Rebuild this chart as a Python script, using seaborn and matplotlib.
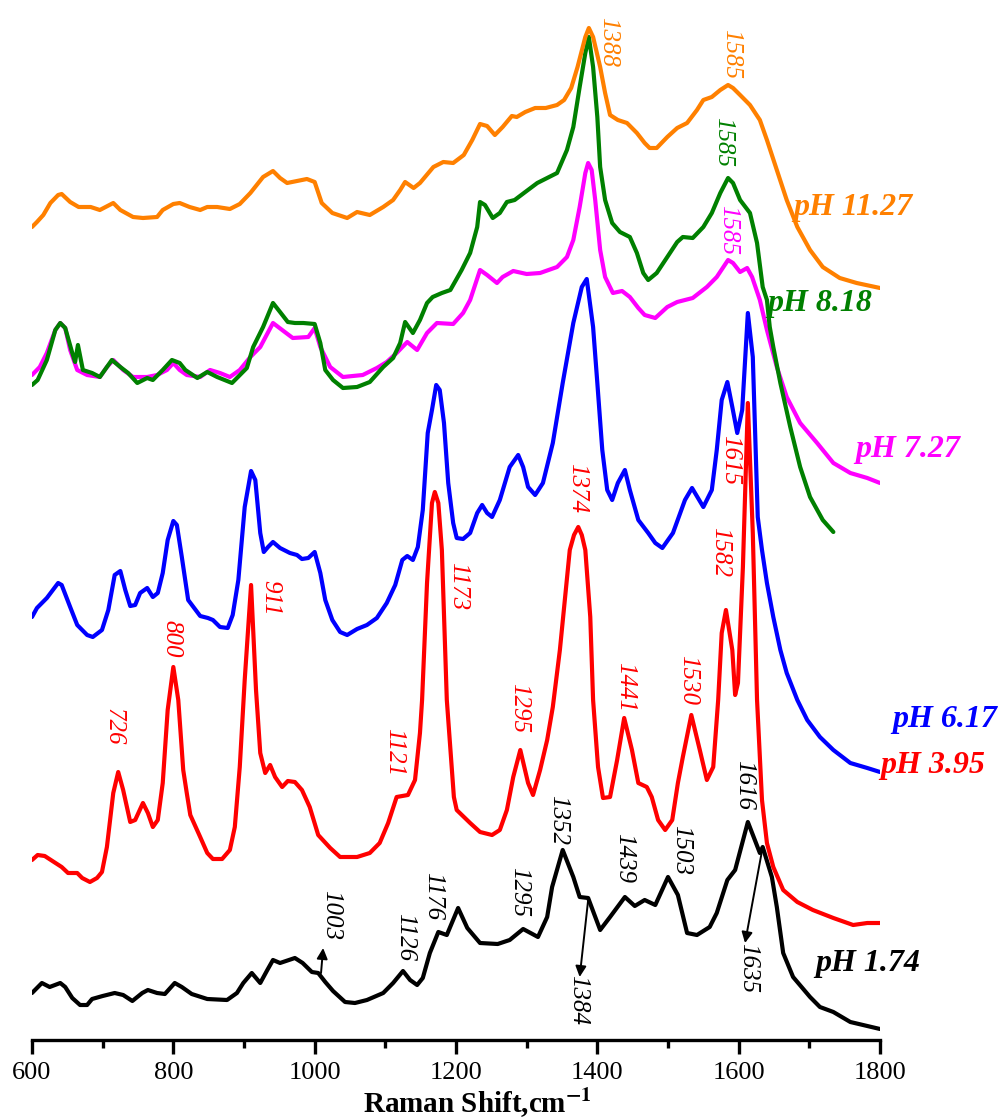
import matplotlib
matplotlib.use("Agg")
import matplotlib.pyplot as plt
import seaborn as sns
import pandas as pd

# ---------------- spectra (Raman shift in cm-1, intensity in a.u., stacked) ----------------
wn_1174 = [600, 614, 625, 640, 647, 657, 668, 678, 685, 700, 717, 729, 742, 756, 764, 777, 788, 802,
           812, 826, 848, 876, 890, 899, 911, 923, 933, 941, 951, 972, 983, 996, 1005, 1015, 1026,
           1043, 1057, 1074, 1097, 1111, 1125, 1135, 1145, 1153, 1163, 1175, 1187, 1203, 1216, 1234,
           1259, 1276, 1295, 1316, 1329, 1336, 1351, 1366, 1375, 1387, 1404, 1418, 1439, 1453, 1467,
           1482, 1500, 1514, 1527, 1541, 1559, 1569, 1584, 1595, 1613, 1630, 1634, 1647, 1654, 1663,
           1677, 1701, 1715, 1734, 1758, 1800]
int_1174 = [47, 57, 53, 57, 53, 42, 35, 35, 41, 44, 47, 45, 39, 47, 50, 47, 46, 57,
            53, 46, 41, 40, 47, 57, 67, 57, 70, 80, 77, 82, 77, 68, 67, 58, 49,
            38, 37, 40, 47, 57, 69, 60, 55, 62, 87, 108, 105, 132, 112, 97,
            96, 100, 111, 103, 123, 153, 190, 163, 143, 142, 110, 123, 143, 134, 140,
            135, 163, 145, 107, 105, 113, 127, 160, 170, 218, 187, 193, 163, 133, 87,
            63, 43, 33, 28, 18, 11]

wn_395 = [600, 608, 618, 642, 651, 664, 671, 682, 692, 699, 706, 715, 722, 729, 739, 746, 757, 764,
          771, 778, 785, 792, 800, 807, 814, 819, 824, 838, 848, 856, 869, 880, 887, 894, 901, 910,
          917, 923, 930, 937, 944, 954, 962, 972, 982, 993, 1005, 1022, 1036, 1060, 1078, 1092, 1104,
          1116, 1132, 1142, 1149, 1152, 1159, 1166, 1170, 1175, 1180, 1187, 1197, 1201, 1220, 1234,
          1251, 1262, 1272, 1281, 1291, 1302, 1309, 1319, 1329, 1337, 1347, 1361, 1367, 1373, 1378,
          1383, 1390, 1394, 1401, 1408, 1418, 1428, 1438, 1449, 1458, 1470, 1477, 1486, 1496, 1506,
          1514, 1521, 1533, 1545, 1555, 1564, 1571, 1576, 1582, 1591, 1595, 1599, 1606, 1613, 1620,
          1626, 1633, 1640, 1649, 1663, 1683, 1705, 1734, 1762, 1782, 1800]
int_395 = [180, 185, 184, 173, 167, 167, 162, 158, 162, 168, 193, 247, 268, 250, 218, 220, 237, 227,
           213, 220, 257, 330, 373, 340, 270, 247, 225, 203, 187, 181, 181, 190, 213, 273, 360, 455,
           350, 287, 267, 275, 263, 253, 259, 258, 250, 233, 205, 192, 183, 183, 187, 197, 217,
           243, 245, 260, 307, 340, 457, 537, 548, 537, 490, 340, 243, 230, 217, 208,
           205, 210, 230, 263, 290, 257, 245, 270, 300, 333, 390, 490, 505, 513, 505,
           490, 423, 340, 273, 242, 243, 280, 322, 290, 257, 253, 243, 220, 210, 220,
           257, 283, 325, 290, 260, 273, 340, 407, 430, 390, 345, 357, 473, 637, 507,
           340, 240, 197, 173, 150, 138, 130, 122, 115, 117, 117]

wn_617 = [600, 607, 621, 637, 642, 654, 664, 678, 686, 699, 708, 717, 725, 732, 739, 746, 753, 763,
          771, 778, 785, 792, 800, 805, 812, 821, 838, 849, 856, 866, 877, 884, 892, 901, 910, 916,
          923, 928, 934, 941, 951, 965, 975, 982, 991, 1000, 1008, 1015, 1025, 1036, 1046, 1060,
          1074, 1088, 1102, 1114, 1124, 1131, 1139, 1146, 1153, 1160, 1166, 1172, 1177, 1183, 1189,
          1196, 1201, 1210, 1220, 1230, 1237, 1244, 1251, 1262, 1276, 1288, 1295, 1302, 1312, 1323,
          1337, 1351, 1366, 1378, 1385, 1394, 1400, 1407, 1414, 1421, 1429, 1439, 1446, 1458, 1472,
          1482, 1492, 1507, 1524, 1534, 1550, 1562, 1569, 1576, 1584, 1591, 1598, 1605, 1613, 1620,
          1627, 1633, 1640, 1649, 1659, 1668, 1683, 1697, 1715, 1734, 1758, 1782, 1800]
int_617 = [423, 432, 442, 457, 455, 433, 415, 405, 403, 410, 430, 465, 469, 450, 434, 435, 447, 452,
           443, 447, 467, 500, 519, 515, 483, 440, 424, 422, 420, 413, 412, 425, 460, 533, 569, 560,
           507, 488, 493, 498, 492, 487, 485, 481, 482, 488, 467, 440, 420, 408, 405, 411,
           415, 422, 437, 455, 480, 484, 480, 493, 530, 607, 630, 655, 650, 617, 557,
           517, 502, 501, 507, 527, 535, 527, 523, 540, 573, 585, 573, 553, 545, 557,
           597, 657, 717, 753, 761, 713, 657, 590, 550, 540, 557, 570, 550, 520, 507,
           497, 492, 507, 540, 552, 533, 550, 590, 640, 658, 633, 607, 630, 727, 683,
           523, 490, 457, 423, 390, 367, 340, 320, 303, 290, 277, 272, 268]

wn_727 = [600, 611, 621, 633, 640, 647, 654, 664, 678, 696, 706, 715, 729, 743, 763, 777, 791, 800,
          809, 819, 838, 852, 866, 880, 894, 909, 923, 941, 954, 969, 991, 1000, 1008, 1022, 1040,
          1068, 1088, 1102, 1116, 1131, 1145, 1159, 1173, 1196, 1210, 1220, 1234, 1244, 1258, 1266,
          1281, 1300, 1319, 1343, 1357, 1366, 1375, 1383, 1387, 1392, 1397, 1404, 1411, 1422, 1435,
          1446, 1458, 1467, 1482, 1499, 1513, 1535, 1555, 1569, 1585, 1592, 1602, 1612, 1619, 1630,
          1640, 1654, 1668, 1687, 1711, 1734, 1758, 1782, 1800]
int_727 = [665, 673, 687, 710, 717, 712, 690, 670, 665, 663, 673, 680, 670, 663, 663, 665, 670, 677,
           670, 665, 663, 670, 667, 663, 670, 683, 693, 717, 710, 702, 703, 712, 693, 673, 663,
           665, 672, 678, 687, 698, 690, 707, 717, 716, 727, 740, 770, 765, 757, 763,
           769, 766, 767, 773, 783, 800, 833, 867, 877, 870, 840, 790, 763, 747, 749,
           743, 732, 725, 722, 733, 738, 742, 753, 763, 780, 777, 768, 772, 763, 740,
           710, 673, 643, 617, 597, 577, 567, 562, 557]

wn_818 = [600, 608, 621, 633, 640, 647, 657, 661, 665, 672, 685, 696, 713, 725, 736, 749, 763, 771,
          785, 798, 809, 817, 834, 848, 862, 883, 904, 913, 927, 941, 951, 962, 972, 984, 1000, 1008,
          1015, 1026, 1040, 1060, 1078, 1097, 1111, 1121, 1128, 1139, 1149, 1159, 1167, 1180, 1192,
          1208, 1220, 1230, 1234, 1241, 1252, 1262, 1272, 1283, 1298, 1315, 1329, 1343, 1357, 1366,
          1375, 1383, 1388, 1394, 1400, 1404, 1411, 1421, 1432, 1446, 1456, 1465, 1472, 1484, 1499,
          1513, 1521, 1535, 1550, 1562, 1574, 1585, 1592, 1602, 1616, 1626, 1634, 1640, 1644, 1649,
          1659, 1673, 1687, 1701, 1719, 1734]
int_818 = [655, 660, 680, 710, 717, 712, 687, 678, 695, 670, 667, 663, 680, 673, 667, 657, 662, 660,
           670, 680, 677, 670, 662, 668, 663, 657, 672, 693, 713, 737, 728, 718, 717, 717, 716, 697,
           670, 660, 652, 653, 658, 673, 682, 697, 718, 707, 720, 737, 743, 747, 750,
           770, 787, 813, 838, 835, 822, 827, 838, 840, 848, 857, 862, 867, 890, 913,
           953, 987, 1003, 973, 923, 873, 840, 817, 808, 803, 787, 767, 760, 767, 783,
           798, 803, 802, 813, 827, 847, 862, 857, 840, 827, 797, 753, 740, 713, 693,
           657, 613, 573, 543, 520, 508]

wn_1127 = [600, 607, 616, 626, 637, 642, 654, 666, 683, 696, 715, 725, 743, 757, 777, 785, 800, 809,
           823, 838, 848, 862, 880, 894, 909, 927, 941, 951, 961, 989, 1000, 1010, 1025, 1046, 1060,
           1078, 1097, 1111, 1121, 1128, 1140, 1149, 1168, 1182, 1196, 1211, 1223, 1234, 1244, 1255,
           1266, 1279, 1286, 1298, 1312, 1327, 1343, 1353, 1363, 1372, 1383, 1388, 1394, 1404, 1411,
           1418, 1429, 1442, 1456, 1467, 1474, 1484, 1499, 1513, 1527, 1541, 1550, 1562, 1574, 1585,
           1592, 1602, 1616, 1630, 1640, 1654, 1668, 1683, 1701, 1719, 1743, 1767, 1800]
int_1127 = [813, 818, 825, 837, 845, 846, 838, 833, 833, 830, 837, 830, 823, 822, 823, 830, 836, 837,
            833, 830, 833, 833, 831, 836, 847, 863, 869, 862, 857, 861, 858, 837, 827, 822, 828,
            825, 833, 840, 850, 858, 852, 857, 873, 878, 877, 885, 900, 916, 914, 905,
            913, 924, 923, 928, 932, 932, 935, 940, 952, 973, 1003, 1012, 1003, 973, 947,
            925, 920, 917, 907, 897, 892, 892, 903, 912, 917, 930, 940, 943, 950, 955,
            952, 945, 935, 920, 900, 870, 840, 813, 790, 773, 762, 757, 752]

series_names = ["pH 1.74", "pH 3.95", "pH 6.17", "pH 7.27", "pH 8.18", "pH 11.27"]
series_colors = ["#000000", "#FF0000", "#0000FF", "#FF00FF", "#008000", "#FF8000"]
series_wn = [wn_1174, wn_395, wn_617, wn_727, wn_818, wn_1127]
series_int = [int_1174, int_395, int_617, int_727, int_818, int_1127]

# name labels at the right end of every trace
name_pos_wn = [1708, 1800, 1818, 1765, 1641, 1677]
name_pos_int = [77, 275, 320, 591, 736, 832]

# band assignments: (text, wavenumber, intensity of text top, colour)
band_text = ["1388", "1585", "1585", "1585", "1615", "1582", "1374", "1441", "1530", "1295",
             "1121", "1173", "911", "800", "726",
             "1003", "1126", "1176", "1295", "1352", "1439", "1503", "1616", "1384", "1635"]
band_wn = [1415, 1590, 1578, 1585, 1588, 1574, 1371, 1439, 1528, 1289,
           1112, 1203, 937, 798, 716,
           1023, 1128, 1167, 1289, 1344, 1438, 1518, 1607, 1373, 1613]
band_int = [1023, 1011, 923, 835, 605, 513, 577, 378, 385, 357,
            312, 478, 460, 420, 332,
            150, 127, 168, 173, 245, 207, 215, 280, 65, 97]
band_color = ["#FF8000", "#FF8000", "#008000", "#FF00FF", "#FF0000", "#FF0000", "#FF0000",
              "#FF0000", "#FF0000", "#FF0000", "#FF0000", "#FF0000", "#FF0000", "#FF0000",
              "#FF0000"] + ["#000000"] * 10

# arrows on the pH 1.74 trace: (tail wn, tail int, head wn, head int)
arrow_tail_wn = [1009, 1387, 1634]
arrow_tail_int = [67, 140, 193]
arrow_head_wn = [1012, 1375, 1609]
arrow_head_int = [92, 63, 97]

# ---------------- figure ----------------
sns.set_theme(style="ticks")
plt.rcParams["font.family"] = ["Liberation Serif", "DejaVu Serif"]
plt.rcParams["mathtext.fontset"] = "stix"
plt.rcParams["text.color"] = "black"
plt.rcParams["axes.labelcolor"] = "black"
plt.rcParams["xtick.color"] = "black"
plt.rcParams["axes.edgecolor"] = "black"

frames = []
for name, xs, ys in zip(series_names, series_wn, series_int):
    frames.append(pd.DataFrame({"shift": xs, "intensity": ys, "sample": name}))
df = pd.concat(frames, ignore_index=True)

fig = plt.figure(figsize=(10.02, 11.2), dpi=100)
ax = fig.add_axes([32 / 1002, 80 / 1120, 848 / 1002, 1040 / 1120])

sns.lineplot(data=df, x="shift", y="intensity", hue="sample", hue_order=series_names,
             palette=dict(zip(series_names, series_colors)), estimator=None, sort=False,
             linewidth=3, legend=False, ax=ax)

ax.set_xlim(600, 1800)
ax.set_ylim(0, 1040)
sns.despine(ax=ax, left=True, top=True, right=True)
ax.set_yticks([])
ax.set_ylabel("")
ax.spines["bottom"].set_linewidth(2.4)
ax.set_xticks([600, 800, 1000, 1200, 1400, 1600, 1800])
ax.set_xticks([700, 900, 1100, 1300, 1500, 1700], minor=True)
ax.tick_params(axis="x", which="major", length=10, width=2.4, direction="out",
               labelsize=19, pad=6, colors="black")
ax.tick_params(axis="x", which="minor", length=6, width=2.4, direction="out", colors="black")
ax.set_xlabel("")

# axis title, placed just under the tick labels
fig.text(363 / 1002, 7 / 1120, r"Raman Shift,cm$^{\mathbf{-1}}$", fontsize=21,
         fontweight="bold", ha="left", va="baseline", color="black")

for name, color, x, y in zip(series_names, series_colors, name_pos_wn, name_pos_int):
    ax.text(x, y, name, color=color, fontsize=23, fontweight="bold", fontstyle="italic",
            ha="left", va="center", clip_on=False)

for t, x, y, c in zip(band_text, band_wn, band_int, band_color):
    ax.text(x, y, t, color=c, fontsize=18, fontstyle="italic", rotation=270,
            ha="center", va="top", clip_on=False)

for x0, y0, x1, y1 in zip(arrow_tail_wn, arrow_tail_int, arrow_head_wn, arrow_head_int):
    ax.annotate("", xy=(x1, y1), xytext=(x0, y0),
                arrowprops=dict(arrowstyle="-|>", color="black", lw=1.4, mutation_scale=16,
                                shrinkA=0, shrinkB=0))

fig.savefig("out.png", dpi=100)
